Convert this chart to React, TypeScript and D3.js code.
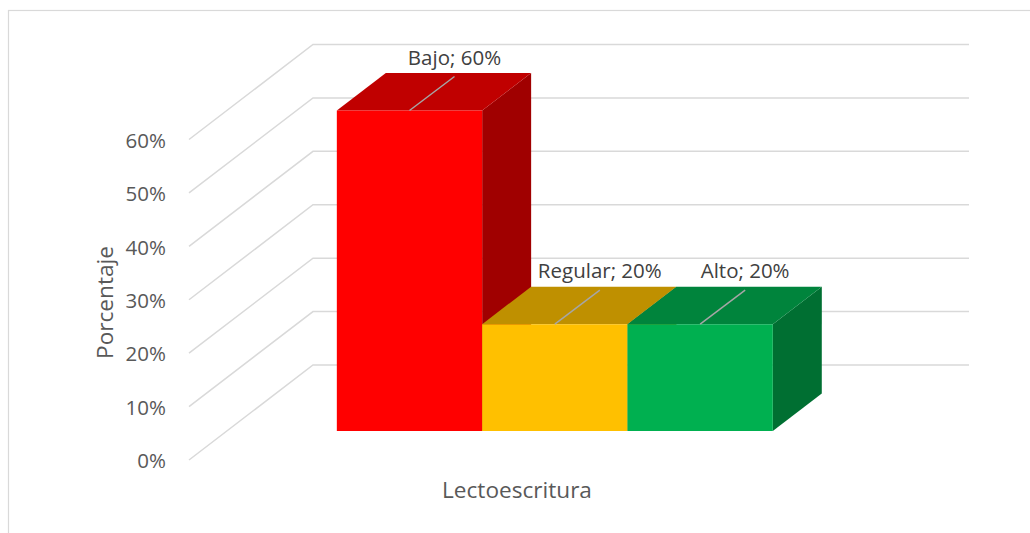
import * as React from 'react';
import * as d3 from 'd3';

const categories = ['Bajo', 'Regular', 'Alto'];
const values = [0.6, 0.2, 0.2];
const yTicks = [0, 0.1, 0.2, 0.3, 0.4, 0.5, 0.6];

const frontColors = ['#FF0000', '#FFC000', '#00B050'];
const topColors = ['#C00000', '#BF9000', '#00843C'];
const sideColors = ['#A00000', '#9E7700', '#006F32'];

const W = 1030;
const H = 533;
const font = '"Open Sans", "Noto Sans", sans-serif';

// oblique 3d: full depth of the floor
const DX = 124;
const DY = -95;
const f0 = 0.305; // bar front depth
const f1 = 0.7; // bar back depth

const App: React.FC = () => {
    const y = d3.scaleLinear().domain([0, 0.6]).range([460, 139.5]);
    const x = d3.scaleBand<string>().domain(categories).range([189, 845]).paddingInner(0).paddingOuter(0.757);

    const p = (px: number, v: number, f: number): [number, number] => [px + f * DX, y(v) + f * DY];
    const poly = (pts: [number, number][]) => pts.map(q => q.join(',')).join(' ');

    const grid = '#d9d9d9';
    const [fx0, fx1] = x.range();

    return (
        <svg width={W} height={H} style={{ position: 'absolute', left: 0, top: 0, background: '#fff' }}>
            <rect x={8.5} y={10.5} width={1100} height={600} fill="none" stroke={grid} strokeWidth={1.2} />

            {/* walls */}
            {yTicks.map((t, i) => {
                const a = p(fx0, t, 0);
                const b = p(fx0, t, 1);
                const c = p(fx1, t, 1);
                return (
                    <g key={i}>
                        <polyline points={poly([a, b, c])} fill="none" stroke={grid} strokeWidth={1.5} />
                        <text x={166} y={y(t) + 1} dy="0.35em" textAnchor="end" fontFamily={font} fontSize={20.5} fill="#595959">
                            {d3.format('.0%')(t)}
                        </text>
                    </g>
                );
            })}

            {/* bars */}
            {categories.map((c, i) => {
                const x0 = x(c)!;
                const x1 = x0 + x.bandwidth();
                const v = values[i];
                const front = [p(x0, 0, f0), p(x1, 0, f0), p(x1, v, f0), p(x0, v, f0)];
                const top = [p(x0, v, f0), p(x1, v, f0), p(x1, v, f1), p(x0, v, f1)];
                const side = [p(x1, 0, f0), p(x1, 0, f1), p(x1, v, f1), p(x1, v, f0)];
                return (
                    <g key={c}>
                        <polygon points={poly(side)} fill={sideColors[i]} />
                        <polygon points={poly(top)} fill={topColors[i]} />
                        <polygon points={poly(front)} fill={frontColors[i]} />
                    </g>
                );
            })}

            {/* data labels */}
            {categories.map((c, i) => {
                const mid = x(c)! + x.bandwidth() / 2;
                const [mx, my] = p(mid, values[i], f0);
                const lx = mx + 45;
                const ly = my - 53;
                return (
                    <g key={c}>
                        <line x1={lx} y1={ly + 19} x2={mx} y2={my} stroke="#a6a6a6" strokeWidth={1.5} />
                        <text x={lx} y={ly} dy="0.35em" textAnchor="middle" fontFamily={font} fontSize={20.5} fill="#404040">
                            {`${c}; ${d3.format('.0%')(values[i])}`}
                        </text>
                    </g>
                );
            })}

            <text x={517} y={498} textAnchor="middle" fontFamily={font} fontSize={22.6} fill="#595959">
                Lectoescritura
            </text>
            <text transform="translate(113,302.5) rotate(-90)" textAnchor="middle" fontFamily={font} fontSize={22.6} fill="#595959">
                Porcentaje
            </text>
        </svg>
    );
};

export default App;
